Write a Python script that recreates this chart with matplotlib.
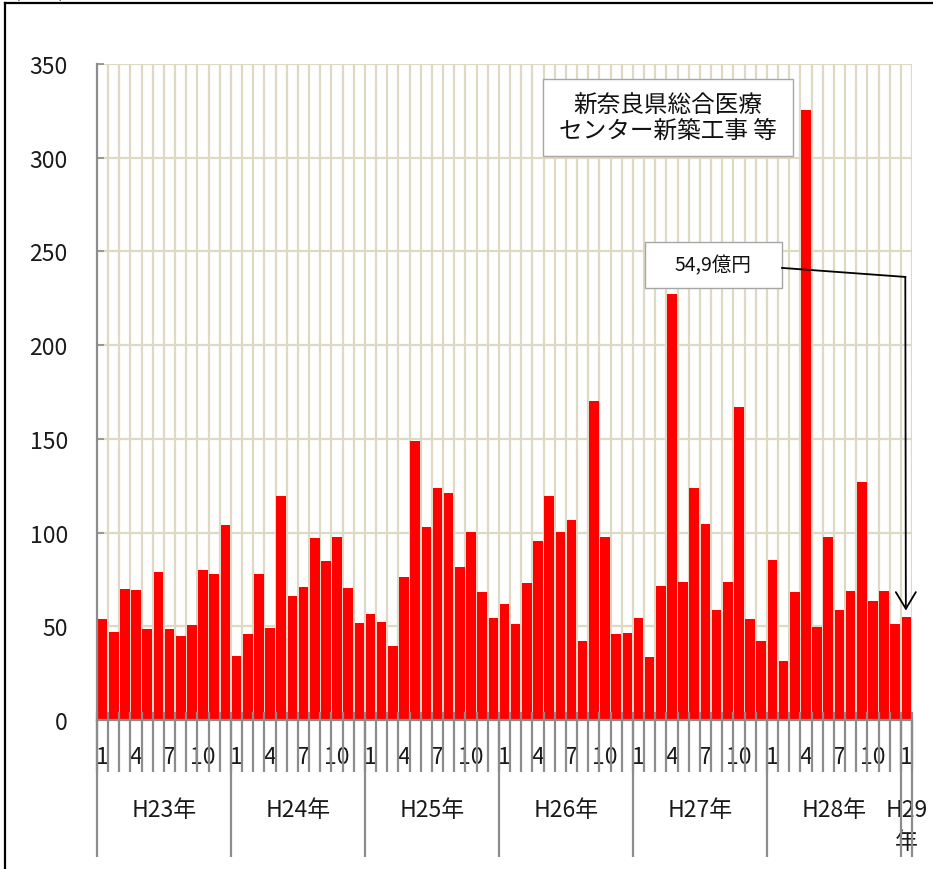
import matplotlib
matplotlib.use("Agg")
import matplotlib.pyplot as plt
from matplotlib.lines import Line2D
from matplotlib.patches import Rectangle
import numpy as np

plt.rcParams['font.family'] = ['Noto Sans CJK JP', 'DejaVu Sans']

# monthly values (億円), H23/1 .. H29/1
h23 = [54, 47, 70, 69.5, 48.5, 79, 48.5, 45, 50.5, 80, 77.7, 104]
h24 = [34.3, 45.7, 77.7, 49.3, 119.5, 66.3, 71, 97, 84.7, 97.7, 70.3, 52]
h25 = [56.7, 52.5, 39.7, 76.5, 149, 103.2, 123.6, 121, 81.8, 100.3, 68.3, 54.6]
h26 = [62.1, 51.2, 73.1, 95.7, 119.5, 100.3, 106.6, 42.3, 170, 97.7, 45.7, 46.6]
h27 = [54.6, 33.4, 71.7, 227.3, 73.8, 123.6, 104.4, 58.9, 73.8, 167.2, 53.9, 42.3]
h28 = [85.4, 31.3, 68.3, 325.5, 49.8, 97.7, 58.9, 69, 126.8, 63.5, 69, 51.2]
h29 = [54.9]

year_labels = ["H23年", "H24年", "H25年", "H26年", "H27年", "H28年", "H29\n年"]
months_per_year = [12, 12, 12, 12, 12, 12, 1]
shown_months = [1, 4, 7, 10]

values = np.array(h23 + h24 + h25 + h26 + h27 + h28 + h29)
months = []
for n in months_per_year:
    months += list(range(1, n + 1))
months = np.array(months)
x = np.arange(len(values))

grid_color = "#DDD9C3"
axis_gray = "#8C8C8C"
text_color = "#1A1A1A"

fig = plt.figure(figsize=(9.33, 8.70), dpi=100)
ax = fig.add_axes([97 / 933, 1 - 721 / 870, 815 / 933, 656 / 870])

ax.bar(x, values, width=0.86, color="#FF0000", zorder=3)

ax.set_xlim(-0.5, len(values) - 0.5)
ax.set_ylim(0, 350)
ax.set_yticks(np.arange(0, 351, 50))
ax.tick_params(axis="y", direction="in", length=5, width=1.2, color=axis_gray,
               labelsize=16.5, labelcolor=text_color, pad=21)

# horizontal gridlines
for yv in np.arange(50, 351, 50):
    ax.axhline(yv, color=grid_color, lw=1.6, zorder=1)

# vertical gridlines at month boundaries
bounds = np.arange(len(values) + 1) - 0.5
ax.vlines(bounds[1:], 0, 1, transform=ax.get_xaxis_transform(),
          color=grid_color, lw=1.6, zorder=1)

ax.set_xticks([])
for s in ["top", "right"]:
    ax.spines[s].set_visible(False)
for s in ["left", "bottom"]:
    ax.spines[s].set_color(axis_gray)
    ax.spines[s].set_linewidth(1.6)
    ax.spines[s].set_zorder(4)

# category ticks below the axis
ax.vlines(bounds, -0.0793, 0.0122, transform=ax.get_xaxis_transform(),
          color=axis_gray, lw=1.6, clip_on=False, zorder=4)
year_starts = np.concatenate([[0], np.cumsum(months_per_year)]) - 0.5
ax.vlines(year_starts, -0.2088, 0, transform=ax.get_xaxis_transform(),
          color=axis_gray, lw=1.6, clip_on=False, zorder=4)

# month labels
for xi, m in zip(x, months):
    if m in shown_months:
        ax.text(xi, -0.0549, str(m), transform=ax.get_xaxis_transform(),
                ha="center", va="center", fontsize=16.5, color=text_color)

# year labels (each line placed on its own baseline)
for i, lab in enumerate(year_labels):
    cx = (year_starts[i] + year_starts[i + 1]) / 2
    for k, line in enumerate(lab.split("\n")):
        ax.text(cx, -0.1463 - 0.0488 * k, line, transform=ax.get_xaxis_transform(),
                ha="center", va="baseline", fontsize=16.5, color=text_color)

# annotation box: hospital construction
ax.add_patch(Rectangle((39.45, 301), 22.4, 41, facecolor="white",
                       edgecolor="#A6A6A6", lw=1.0, zorder=5))
ax.text(50.65, 321.5, "新奈良県総合医療\nセンター新築工事 等", ha="center", va="center",
        fontsize=17, linespacing=1.1, zorder=6, color="#111111")

# annotation box: latest value
ax.add_patch(Rectangle((48.6, 230.5), 12.25, 24.6, facecolor="white",
                       edgecolor="#A6A6A6", lw=1.0, zorder=5))
ax.text(54.7, 242.8, "54,9億円", ha="center", va="center",
        fontsize=14, zorder=6, color="#111111")

ax.plot([60.86, 71.9], [241.2, 236.4], color="black", lw=1.3, zorder=6,
        clip_on=False)
ax.annotate("", xy=(71.95, values[-1] + 3.5), xytext=(71.9, 236.4),
            arrowprops=dict(arrowstyle="->,head_length=0.6,head_width=0.36",
                            color="black", lw=1.3, mutation_scale=20,
                            shrinkA=0, shrinkB=0),
            zorder=6)

# frame and unit text
fig.add_artist(Line2D([5 / 933, 1], [1 - 4 / 870, 1 - 4 / 870], color="black", lw=1.6))
fig.add_artist(Line2D([5 / 933, 5 / 933], [0, 1 - 4 / 870], color="black", lw=1.6))
fig.text(13 / 933, 1.003, "(億円)", fontsize=14, ha="left", va="baseline")

fig.savefig("out.png", dpi=100)
